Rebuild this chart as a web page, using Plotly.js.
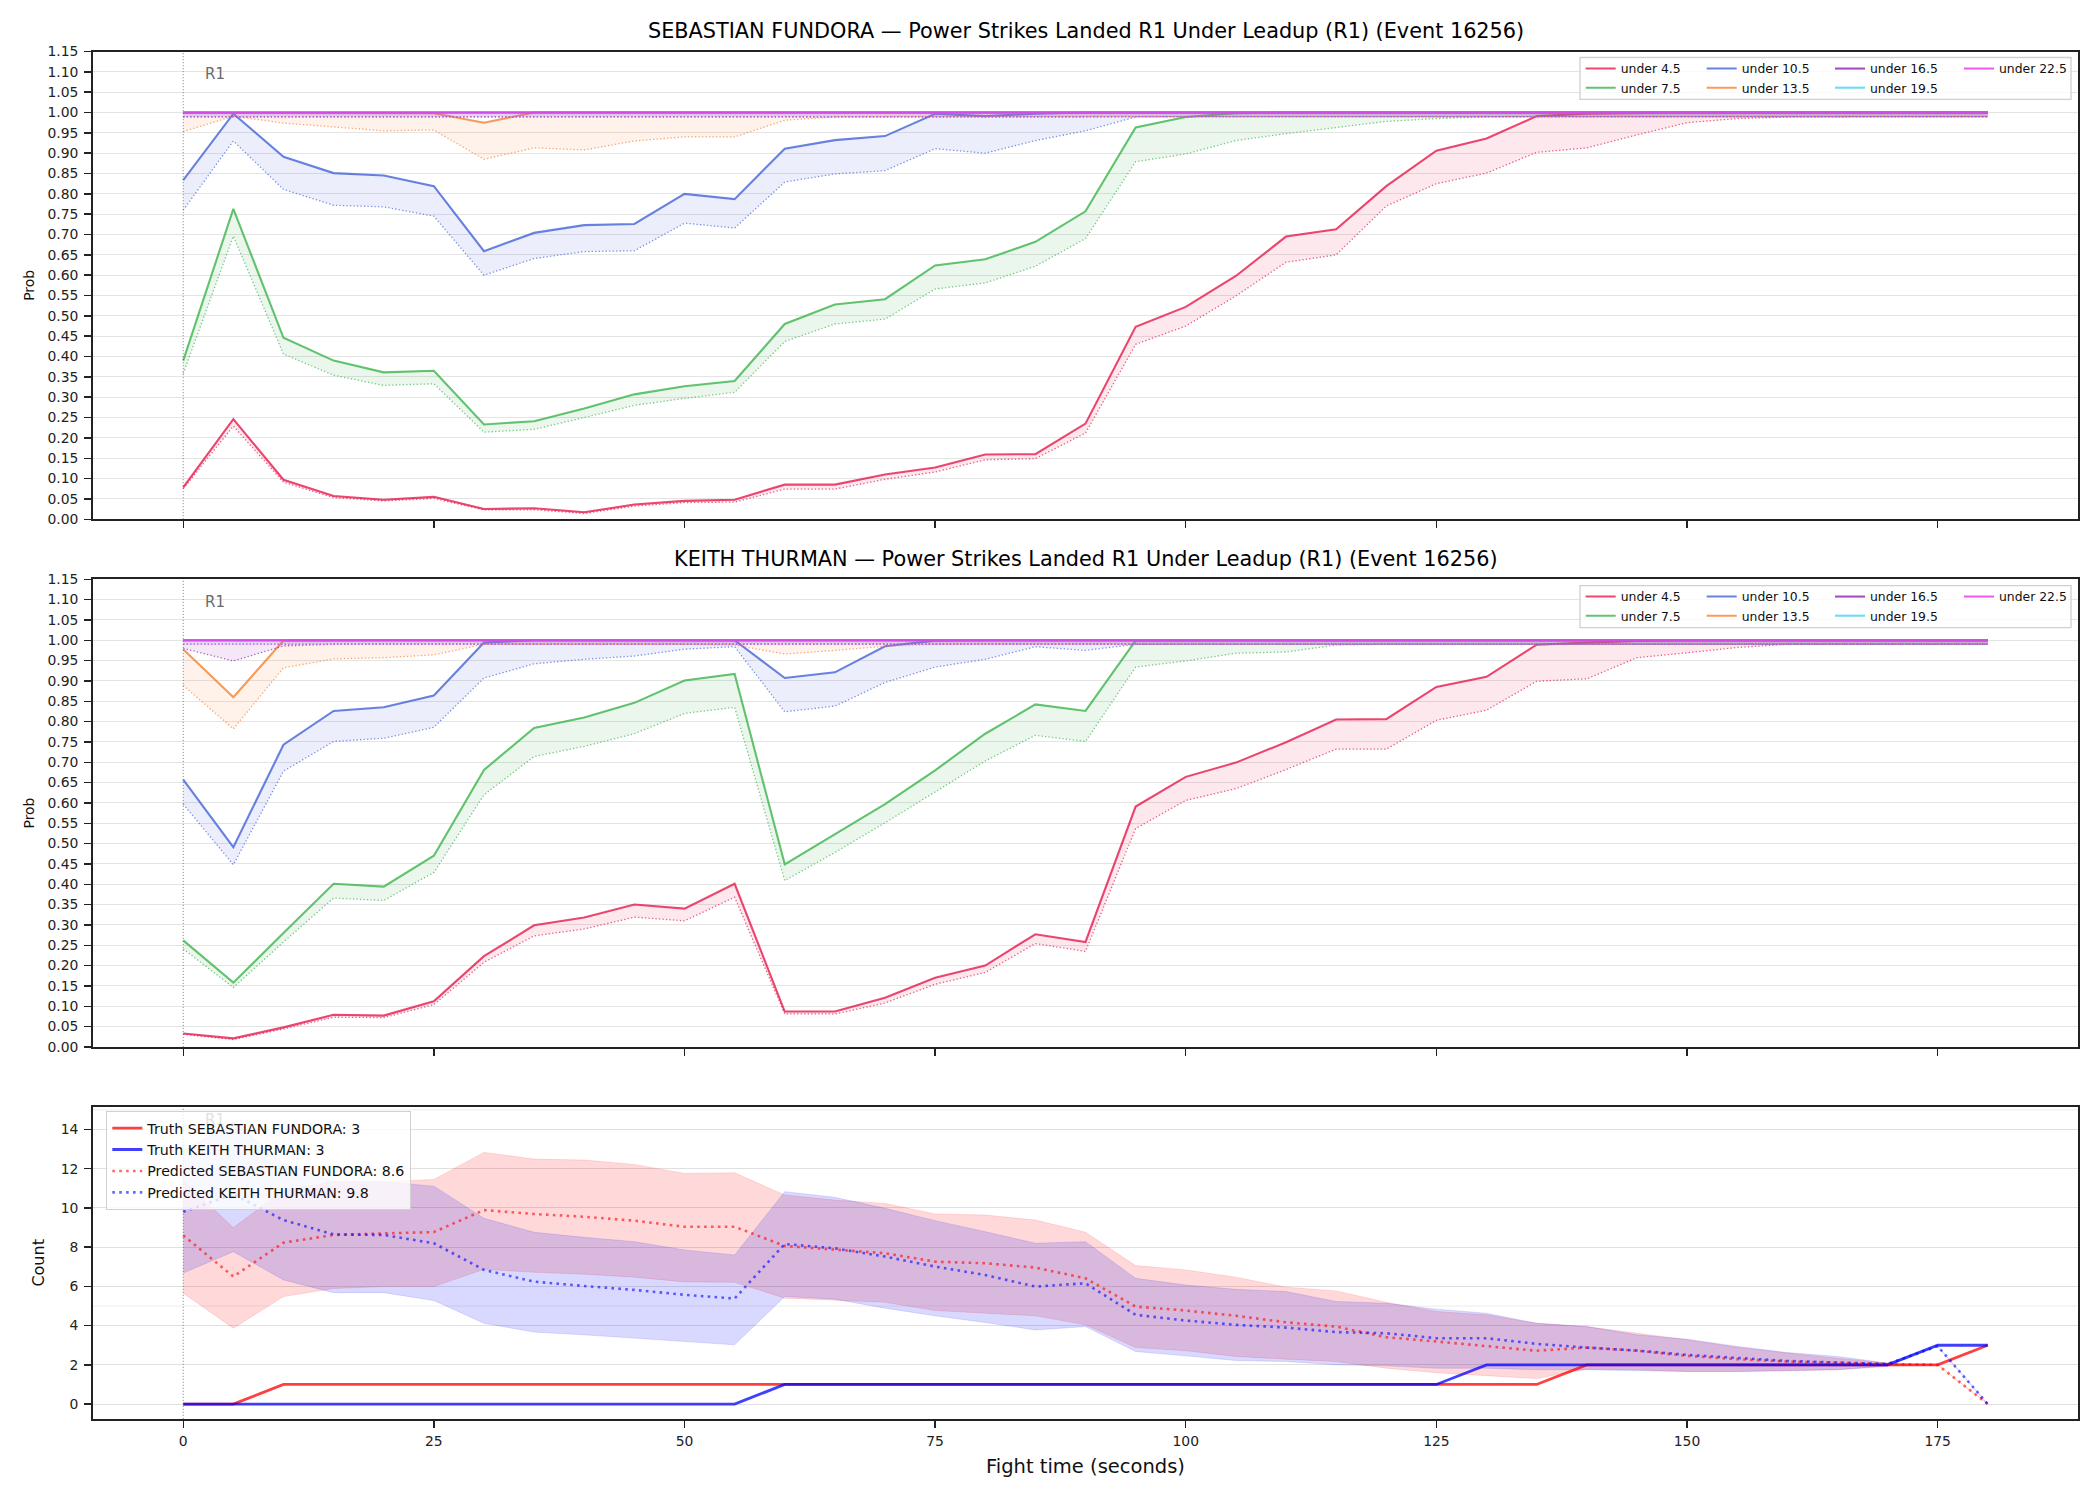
<!DOCTYPE html>
<html>
<head>
<meta charset="utf-8">
<script src="https://cdn.plot.ly/plotly-3.0.1.min.js"></script>
<style>
  html, body { margin: 0; padding: 0; background: #ffffff; }
  #chart { width: 2100px; height: 1500px; }
</style>
</head>
<body>
<div id="chart"></div>
<script>
// Fight time grid (seconds)
const t = [0,5,10,15,20,25,30,35,40,45,50,55,60,65,70,75,80,85,90,95,100,105,110,115,120,125,130,135,140,145,150,155,160,165,170,175,180];

const thresholds = ['under 4.5','under 7.5','under 10.5','under 13.5','under 16.5','under 19.5','under 22.5'];
const thrColors  = ['#e6194b','#3cb44b','#4363d8','#f58231','#911eb4','#42d4f4','#f032e6'];

// SEBASTIAN FUNDORA: solid curve (upper) and dotted curve (lower) per threshold
const fundoraU45  = [0.078,0.246,0.097,0.057,0.048,0.055,0.025,0.027,0.017,0.036,0.045,0.048,0.085,0.085,0.110,0.127,0.159,0.160,0.235,0.473,0.522,0.598,0.695,0.713,0.819,0.906,0.936,0.991,0.997,0.999,1,1,1,1,1,1,1];
const fundoraL45  = [0.075,0.229,0.091,0.053,0.045,0.051,0.023,0.023,0.014,0.032,0.041,0.042,0.074,0.074,0.098,0.116,0.146,0.149,0.212,0.430,0.475,0.549,0.632,0.650,0.770,0.825,0.851,0.902,0.913,0.945,0.975,0.985,0.989,0.990,0.990,0.990,0.990];
const fundoraU75  = [0.390,0.763,0.446,0.390,0.361,0.365,0.233,0.241,0.272,0.307,0.327,0.340,0.480,0.528,0.541,0.624,0.639,0.682,0.757,0.963,0.989,0.998,1,1,1,1,1,1,1,1,1,1,1,1,1,1,1];
const fundoraL75  = [0.358,0.696,0.406,0.354,0.329,0.333,0.214,0.221,0.250,0.280,0.297,0.312,0.437,0.480,0.492,0.566,0.581,0.622,0.690,0.879,0.898,0.931,0.948,0.963,0.978,0.985,0.989,0.990,0.990,0.990,0.990,0.990,0.990,0.990,0.990,0.990,0.990];
const fundoraU105 = [0.834,0.997,0.891,0.851,0.845,0.819,0.659,0.704,0.723,0.726,0.800,0.787,0.911,0.932,0.942,0.997,0.991,0.997,1,1,1,1,1,1,1,1,1,1,1,1,1,1,1,1,1,1,1];
const fundoraL105 = [0.760,0.930,0.811,0.772,0.768,0.745,0.600,0.641,0.658,0.660,0.728,0.716,0.829,0.849,0.857,0.911,0.900,0.931,0.955,0.989,0.990,0.990,0.990,0.990,0.990,0.990,0.990,0.990,0.990,0.990,0.990,0.990,0.990,0.990,0.990,0.990,0.990];
const fundoraU135 = [0.999,0.999,0.999,0.999,0.999,0.998,0.975,1,1,1,1,1,1,1,1,1,1,1,1,1,1,1,1,1,1,1,1,1,1,1,1,1,1,1,1,1,1];
const fundoraL135 = [0.953,0.991,0.974,0.964,0.955,0.957,0.885,0.913,0.908,0.930,0.940,0.940,0.981,0.989,0.990,0.990,0.990,0.990,0.990,0.990,0.990,0.990,0.990,0.990,0.990,0.990,0.990,0.990,0.990,0.990,0.990,0.990,0.990,0.990,0.990,0.990,0.990];
const fundoraU165 = [1,1,1,1,1,1,1,1,1,1,1,1,1,1,1,1,1,1,1,1,1,1,1,1,1,1,1,1,1,1,1,1,1,1,1,1,1];
const fundoraL165 = [0.989,0.989,0.989,0.989,0.989,0.989,0.988,0.988,0.988,0.988,0.988,0.988,0.989,0.989,0.989,0.989,0.989,0.989,0.989,0.990,0.990,0.990,0.990,0.990,0.990,0.990,0.990,0.990,0.990,0.990,0.990,0.990,0.990,0.990,0.990,0.990,0.990];
const fundoraU195 = [1,1,1,1,1,1,1,1,1,1,1,1,1,1,1,1,1,1,1,1,1,1,1,1,1,1,1,1,1,1,1,1,1,1,1,1,1];
const fundoraL195 = [0.990,0.990,0.990,0.990,0.990,0.990,0.990,0.990,0.990,0.990,0.990,0.990,0.990,0.990,0.990,0.990,0.990,0.990,0.990,0.990,0.990,0.990,0.990,0.990,0.990,0.990,0.990,0.990,0.990,0.990,0.990,0.990,0.990,0.990,0.990,0.990,0.990];
const fundoraU225 = [1,1,1,1,1,1,1,1,1,1,1,1,1,1,1,1,1,1,1,1,1,1,1,1,1,1,1,1,1,1,1,1,1,1,1,1,1];
const fundoraL225 = [0.990,0.990,0.990,0.990,0.990,0.990,0.990,0.990,0.990,0.990,0.990,0.990,0.990,0.990,0.990,0.990,0.990,0.990,0.990,0.990,0.990,0.990,0.990,0.990,0.990,0.990,0.990,0.990,0.990,0.990,0.990,0.990,0.990,0.990,0.990,0.990,0.990];

// KEITH THURMAN: solid curve (upper) and dotted curve (lower) per threshold
const thurmanU45  = [0.033,0.021,0.048,0.079,0.077,0.112,0.223,0.299,0.318,0.350,0.340,0.401,0.087,0.087,0.121,0.170,0.200,0.277,0.258,0.591,0.664,0.699,0.749,0.805,0.806,0.885,0.910,0.989,0.994,0.998,1,1,1,1,1,1,1];
const thurmanL45  = [0.031,0.018,0.044,0.073,0.072,0.104,0.208,0.273,0.290,0.319,0.310,0.368,0.081,0.081,0.108,0.154,0.183,0.254,0.235,0.537,0.606,0.635,0.682,0.732,0.732,0.803,0.828,0.899,0.905,0.957,0.969,0.982,0.990,0.990,0.990,0.990,0.990];
const thurmanU75  = [0.262,0.158,0.280,0.401,0.394,0.470,0.681,0.784,0.810,0.846,0.901,0.917,0.449,0.524,0.597,0.680,0.770,0.842,0.826,0.999,1,1,1,1,1,1,1,1,1,1,1,1,1,1,1,1,1];
const thurmanL75  = [0.241,0.146,0.258,0.366,0.360,0.429,0.620,0.714,0.739,0.770,0.820,0.835,0.409,0.478,0.551,0.628,0.703,0.766,0.751,0.934,0.949,0.968,0.971,0.988,0.990,0.990,0.990,0.990,0.990,0.990,0.990,0.990,0.990,0.990,0.990,0.990,0.990];
const thurmanU105 = [0.657,0.491,0.743,0.826,0.835,0.864,0.994,1,1,1,1,1,0.907,0.921,0.985,0.999,1,1,1,1,1,1,1,1,1,1,1,1,1,1,1,1,1,1,1,1,1];
const thurmanL105 = [0.597,0.448,0.678,0.751,0.759,0.786,0.907,0.942,0.953,0.961,0.978,0.984,0.824,0.838,0.896,0.934,0.953,0.984,0.975,0.990,0.990,0.990,0.990,0.990,0.990,0.990,0.990,0.990,0.990,0.990,0.990,0.990,0.990,0.990,0.990,0.990,0.990];
const thurmanU135 = [0.978,0.860,0.999,1,1,1,1,1,1,1,1,1,1,1,1,1,1,1,1,1,1,1,1,1,1,1,1,1,1,1,1,1,1,1,1,1,1];
const thurmanL135 = [0.889,0.782,0.932,0.954,0.957,0.964,0.990,0.990,0.990,0.990,0.990,0.988,0.966,0.975,0.985,0.990,0.990,0.990,0.990,0.990,0.990,0.990,0.990,0.990,0.990,0.990,0.990,0.990,0.990,0.990,0.990,0.990,0.990,0.990,0.990,0.990,0.990];
const thurmanU165 = [1,1,1,1,1,1,1,1,1,1,1,1,1,1,1,1,1,1,1,1,1,1,1,1,1,1,1,1,1,1,1,1,1,1,1,1,1];
const thurmanL165 = [0.980,0.949,0.986,0.990,0.990,0.990,0.990,0.990,0.990,0.990,0.990,0.990,0.990,0.990,0.990,0.990,0.990,0.990,0.990,0.990,0.990,0.990,0.990,0.990,0.990,0.990,0.990,0.990,0.990,0.990,0.990,0.990,0.990,0.990,0.990,0.990,0.990];
const thurmanU195 = [1,1,1,1,1,1,1,1,1,1,1,1,1,1,1,1,1,1,1,1,1,1,1,1,1,1,1,1,1,1,1,1,1,1,1,1,1];
const thurmanL195 = [0.990,0.990,0.990,0.990,0.990,0.990,0.990,0.990,0.990,0.990,0.990,0.990,0.990,0.990,0.990,0.990,0.990,0.990,0.990,0.990,0.990,0.990,0.990,0.990,0.990,0.990,0.990,0.990,0.990,0.990,0.990,0.990,0.990,0.990,0.990,0.990,0.990];
const thurmanU225 = [1,1,1,1,1,1,1,1,1,1,1,1,1,1,1,1,1,1,1,1,1,1,1,1,1,1,1,1,1,1,1,1,1,1,1,1,1];
const thurmanL225 = [0.990,0.990,0.990,0.990,0.990,0.990,0.990,0.990,0.990,0.990,0.990,0.990,0.990,0.990,0.990,0.990,0.990,0.990,0.990,0.990,0.990,0.990,0.990,0.990,0.990,0.990,0.990,0.990,0.990,0.990,0.990,0.990,0.990,0.990,0.990,0.990,0.990];

// Count panel: truth, predicted median and predicted band per fighter
const truthFundora = [0,0,1,1,1,1,1,1,1,1,1,1,1,1,1,1,1,1,1,1,1,1,1,1,1,1,1,1,2,2,2,2,2,2,2,2,3];
const truthThurman = [0,0,0,0,0,0,0,0,0,0,0,0,1,1,1,1,1,1,1,1,1,1,1,1,1,1,2,2,2,2,2,2,2,2,2,3,3];
const predFundora  = [8.6,6.5,8.23,8.62,8.7,8.77,9.89,9.69,9.55,9.35,9.04,9.04,8.06,7.86,7.69,7.26,7.18,6.96,6.41,4.97,4.77,4.5,4.17,3.95,3.41,3.19,2.94,2.72,2.88,2.72,2.46,2.29,2.17,2.09,2.04,2.0,0];
const predThurman  = [9.8,10.7,9.38,8.65,8.62,8.2,6.84,6.24,6.02,5.82,5.57,5.38,8.16,7.94,7.52,7.01,6.58,5.99,6.16,4.55,4.26,4.04,3.9,3.67,3.61,3.36,3.36,3.07,2.88,2.73,2.51,2.34,2.2,2.12,2.04,2.95,0];
const bandFundoraHi = [11.4,9.0,10.9,11.34,11.34,11.45,12.83,12.49,12.44,12.22,11.76,11.79,10.66,10.4,10.23,9.69,9.64,9.38,8.76,7.06,6.84,6.47,5.96,5.77,5.19,4.72,4.55,4.12,3.95,3.61,3.28,2.9,2.6,2.34,2.09,2.0,0];
const bandFundoraLo = [5.65,3.87,5.48,5.89,5.99,5.99,6.87,6.72,6.62,6.47,6.23,6.21,5.4,5.31,5.19,4.77,4.63,4.5,4.04,2.88,2.72,2.43,2.29,2.17,1.83,1.6,1.45,1.3,1.78,1.75,1.66,1.66,1.7,1.75,1.95,2.0,0];
const bandThurmanHi = [12.9,14.4,12.3,11.34,11.34,11.11,9.47,8.76,8.5,8.28,7.86,7.6,10.83,10.54,9.98,9.35,8.79,8.2,8.28,6.41,6.07,5.85,5.74,5.23,5.14,4.84,4.63,4.12,3.95,3.53,3.31,2.94,2.63,2.43,2.09,2.95,0];
const bandThurmanLo = [6.68,7.77,6.33,5.68,5.68,5.28,4.12,3.67,3.53,3.36,3.19,3.02,5.48,5.35,4.89,4.5,4.16,3.78,3.95,2.68,2.46,2.22,2.17,2.0,1.95,1.83,1.83,1.75,1.75,1.71,1.66,1.66,1.7,1.75,1.92,2.95,0];

const labelFundora = 'SEBASTIAN FUNDORA';
const labelThurman = 'KEITH THURMAN';
const truthFinalFundora = 3, truthFinalThurman = 3;

const FONT = 'DejaVu Sans, Liberation Sans, sans-serif';

function rgba(hex, a) {
  const n = parseInt(hex.slice(1), 16);
  return 'rgba(' + ((n >> 16) & 255) + ',' + ((n >> 8) & 255) + ',' + (n & 255) + ',' + a + ')';
}

const fundoraUpper = [fundoraU45, fundoraU75, fundoraU105, fundoraU135, fundoraU165, fundoraU195, fundoraU225];
const fundoraLower = [fundoraL45, fundoraL75, fundoraL105, fundoraL135, fundoraL165, fundoraL195, fundoraL225];
const thurmanUpper = [thurmanU45, thurmanU75, thurmanU105, thurmanU135, thurmanU165, thurmanU195, thurmanU225];
const thurmanLower = [thurmanL45, thurmanL75, thurmanL105, thurmanL135, thurmanL165, thurmanL195, thurmanL225];

// legend column for each threshold (two rows, four columns)
const legendColumn = [0, 0, 1, 1, 2, 2, 3];

const traces = [];

function addProbPanel(upper, lower, xa, ya, firstLegend) {
  thresholds.forEach((name, i) => {
    const c = thrColors[i];
    const leg = 'legend' + (firstLegend + legendColumn[i]);
    traces.push({
      type: 'scatter', mode: 'lines', x: t, y: upper[i], xaxis: xa, yaxis: ya,
      name: name, legend: leg,
      line: { color: rgba(c, 0.8), width: 2.1 },
      hoverinfo: 'skip'
    });
    traces.push({
      type: 'scatter', mode: 'lines', x: t, y: lower[i], xaxis: xa, yaxis: ya,
      name: name, showlegend: false, legend: leg,
      line: { color: rgba(c, 0.7), width: 1.3, dash: '1.3px,2.2px' },
      fill: 'tonexty', fillcolor: rgba(c, 0.1),
      hoverinfo: 'skip'
    });
  });
}

addProbPanel(fundoraUpper, fundoraLower, 'x', 'y', 2);
addProbPanel(thurmanUpper, thurmanLower, 'x2', 'y2', 6);

// count panel bands
traces.push({ type: 'scatter', mode: 'lines', x: t, y: bandFundoraHi, xaxis: 'x3', yaxis: 'y3',
  showlegend: false, legend: 'legend10', line: { color: 'rgba(255,0,0,0.12)', width: 1 }, hoverinfo: 'skip' });
traces.push({ type: 'scatter', mode: 'lines', x: t, y: bandFundoraLo, xaxis: 'x3', yaxis: 'y3',
  showlegend: false, legend: 'legend10', line: { color: 'rgba(255,0,0,0.12)', width: 1 },
  fill: 'tonexty', fillcolor: 'rgba(255,0,0,0.15)', hoverinfo: 'skip' });
traces.push({ type: 'scatter', mode: 'lines', x: t, y: bandThurmanHi, xaxis: 'x3', yaxis: 'y3',
  showlegend: false, legend: 'legend10', line: { color: 'rgba(0,0,255,0.12)', width: 1 }, hoverinfo: 'skip' });
traces.push({ type: 'scatter', mode: 'lines', x: t, y: bandThurmanLo, xaxis: 'x3', yaxis: 'y3',
  showlegend: false, legend: 'legend10', line: { color: 'rgba(0,0,255,0.12)', width: 1 },
  fill: 'tonexty', fillcolor: 'rgba(0,0,255,0.15)', hoverinfo: 'skip' });

// truth lines and predicted medians
traces.push({ type: 'scatter', mode: 'lines', x: t, y: truthFundora, xaxis: 'x3', yaxis: 'y3',
  name: 'Truth ' + labelFundora + ': ' + truthFinalFundora, legend: 'legend', legendgroup: 'g1',
  line: { color: 'rgba(255,0,0,0.75)', width: 2.8 }, hoverinfo: 'skip' });
traces.push({ type: 'scatter', mode: 'lines', x: t, y: truthThurman, xaxis: 'x3', yaxis: 'y3',
  name: 'Truth ' + labelThurman + ': ' + truthFinalThurman, legend: 'legend', legendgroup: 'g2',
  line: { color: 'rgba(0,0,255,0.75)', width: 2.8 }, hoverinfo: 'skip' });
traces.push({ type: 'scatter', mode: 'lines', x: t, y: predFundora, xaxis: 'x3', yaxis: 'y3',
  name: 'Predicted ' + labelFundora + ': ' + predFundora[0].toFixed(1), legend: 'legend', legendgroup: 'g3',
  line: { color: 'rgba(255,0,0,0.6)', width: 2.6, dash: '2.6px,4.3px' }, hoverinfo: 'skip' });
traces.push({ type: 'scatter', mode: 'lines', x: t, y: predThurman, xaxis: 'x3', yaxis: 'y3',
  name: 'Predicted ' + labelThurman + ': ' + predThurman[0].toFixed(1), legend: 'legend', legendgroup: 'g4',
  line: { color: 'rgba(0,0,255,0.6)', width: 2.6, dash: '2.6px,4.3px' }, hoverinfo: 'skip' });

const W = 2100, H = 1500;
const xDomain = [93 / W, 2078 / W];
const yDomTop = [1 - 519.2 / H, 1 - 51.5 / H];
const yDomMid = [1 - 1046.9 / H, 1 - 579.2 / H];
const yDomBot = [1 - 1418.8 / H, 1 - 1106.9 / H];

const axisBase = {
  showline: true, linecolor: '#222222', linewidth: 1.8, mirror: true,
  ticks: 'outside', ticklen: 7, tickwidth: 1.4, tickcolor: '#222222',
  zeroline: false, showgrid: false,
  tickfont: { family: FONT, size: 13.9, color: '#222222' }
};

function xAxis(anchor, labels) {
  return Object.assign({}, axisBase, {
    domain: xDomain, anchor: anchor, range: [-9, 189], tick0: 0, dtick: 25,
    showticklabels: labels, ticklabelstandoff: 2
  });
}

function probAxis(anchor, domain) {
  return Object.assign({}, axisBase, {
    domain: domain, anchor: anchor, range: [0, 1.15], tick0: 0, dtick: 0.05, tickformat: '.2f',
    showgrid: true, gridcolor: '#e4e4e4', gridwidth: 1, ticklabelstandoff: 3,
    title: { text: 'Prob', font: { family: FONT, size: 13.9, color: '#111' }, standoff: 10 }
  });
}

const titleFont = { family: FONT, size: 20.8, color: '#000' };
const xMid = (xDomain[0] + xDomain[1]) / 2;

const annotations = [
  { xref: 'paper', yref: 'paper', x: xMid, y: 1 - 31 / H, xanchor: 'center', yanchor: 'middle',
    text: labelFundora + ' — Power Strikes Landed R1 Under Leadup (R1) (Event 16256)',
    showarrow: false, font: titleFont },
  { xref: 'paper', yref: 'paper', x: xMid, y: 1 - 558.5 / H, xanchor: 'center', yanchor: 'middle',
    text: labelThurman + ' — Power Strikes Landed R1 Under Leadup (R1) (Event 16256)',
    showarrow: false, font: titleFont },
  { xref: 'x', yref: 'y', x: 2, y: 1.095, xanchor: 'left', yanchor: 'middle', text: 'R1',
    showarrow: false, font: { family: FONT, size: 15, color: '#6b6b6b' } },
  { xref: 'x2', yref: 'y2', x: 2, y: 1.095, xanchor: 'left', yanchor: 'middle', text: 'R1',
    showarrow: false, font: { family: FONT, size: 15, color: '#6b6b6b' } },
  { xref: 'x3', yref: 'y3', x: 2, y: 14.5, xanchor: 'left', yanchor: 'middle', text: 'R1',
    showarrow: false, opacity: 0.2, font: { family: FONT, size: 15, color: '#6b6b6b' } }
];

const shapes = [];
[['x', 'y'], ['x2', 'y2'], ['x3', 'y3']].forEach(([xa, ya]) => {
  shapes.push({ type: 'line', xref: xa, yref: ya + ' domain', x0: 0, x1: 0, y0: 0, y1: 1,
    layer: 'above', line: { color: 'rgba(80,80,80,0.75)', width: 1, dash: '1px,2px' } });
});
[5, 15].forEach(v => {
  shapes.push({ type: 'line', xref: 'x3 domain', yref: 'y3', x0: 0, x1: 1, y0: v, y1: v,
    layer: 'below', line: { color: '#ececec', width: 1 } });
});
// frames behind the multi-column threshold legends
[[57.5, 99.3], [585.6, 627.6]].forEach(([top, bottom]) => {
  shapes.push({ type: 'rect', xref: 'paper', yref: 'paper',
    x0: 1580 / W, x1: 2071 / W, y0: 1 - bottom / H, y1: 1 - top / H, layer: 'above',
    fillcolor: 'rgba(255,255,255,0.8)', line: { color: '#d0d0d0', width: 1.3 } });
});

const legendCols = [1580.7, 1701.7, 1830, 1959];
const layout = {
  width: W, height: H,
  margin: { l: 0, r: 0, t: 0, b: 0 },
  paper_bgcolor: '#ffffff', plot_bgcolor: '#ffffff',
  font: { family: FONT, color: '#222' },
  showlegend: true,
  xaxis: xAxis('y', false),
  xaxis2: xAxis('y2', false),
  xaxis3: Object.assign(xAxis('y3', true), {
    title: { text: 'Fight time (seconds)', font: { family: FONT, size: 19.5, color: '#111' }, standoff: 11 }
  }),
  yaxis: probAxis('x', yDomTop),
  yaxis2: probAxis('x2', yDomMid),
  yaxis3: Object.assign({}, axisBase, {
    domain: yDomBot, anchor: 'x3', range: [-0.75, 15.15], tick0: 0, dtick: 2,
    showgrid: true, gridcolor: '#e0e0e0', gridwidth: 1, ticklabelstandoff: 3,
    title: { text: 'Count', font: { family: FONT, size: 16, color: '#111' }, standoff: 12 }
  }),
  legend: {
    x: 106 / W, y: 1 - 1111 / H, xanchor: 'left', yanchor: 'top', traceorder: 'normal',
    bgcolor: 'rgba(255,255,255,0.8)', bordercolor: '#d0d0d0', borderwidth: 1.3,
    font: { family: FONT, size: 14.2, color: '#111' }, tracegroupgap: 1.3
  },
  legend10: { visible: false },
  annotations: annotations,
  shapes: shapes
};

legendCols.forEach((px, k) => {
  const common = {
    x: px / W, xanchor: 'left', yanchor: 'top', traceorder: 'normal',
    bgcolor: 'rgba(0,0,0,0)', borderwidth: 0,
    font: { family: FONT, size: 12.4, color: '#111' }
  };
  layout['legend' + (2 + k)] = Object.assign({ y: 1 - 54 / H }, common);
  layout['legend' + (6 + k)] = Object.assign({ y: 1 - 582 / H }, common);
});

Plotly.newPlot('chart', traces, layout, { staticPlot: true, displayModeBar: false });
</script>
</body>
</html>
